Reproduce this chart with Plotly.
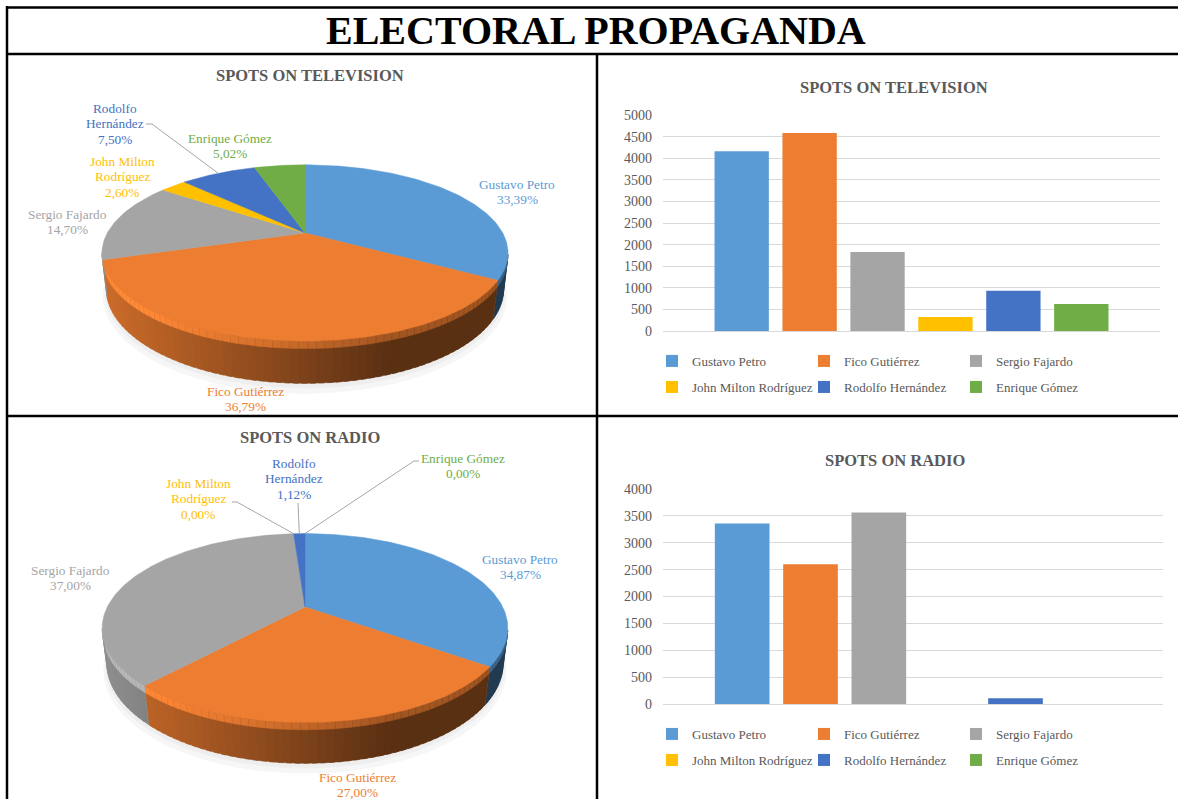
import numpy as np
import plotly.graph_objects as go

W, H = 1178, 799

# ---------------- data ----------------
candidates = ["Gustavo Petro", "Fico Gutiérrez", "Sergio Fajardo",
              "John Milton Rodríguez", "Rodolfo Hernández", "Enrique Gómez"]
tv_spots = [4160, 4583, 1831, 324, 934, 625]
radio_spots = [3358, 2600, 3563, 0, 108, 0]
colors = ["#5B9BD5", "#ED7D31", "#A5A5A5", "#FFC000", "#4472C4", "#70AD47"]
pie_label_names = ["Gustavo Petro", "Fico Gutiérrez", "Sergio Fajardo",
                   "John Milton<br>Rodríguez", "Rodolfo<br>Hernández", "Enrique Gómez"]
tv_ticks = list(range(0, 5001, 500))
radio_ticks = list(range(0, 4001, 500))

# ---------------- styling / layout ----------------
FONT = "Liberation Serif"
TEXT_GRAY = "#595959"
GRID = "#D9D9D9"

PIE_DIST = 4.0      # camera distance (in pie radii)
PIE_FOCAL = 791.0   # projection scale, px
PIE_DEPTH = 0.2     # disc thickness (in pie radii)
BEVEL = 0.035       # height of the lit rim band on the wall
WALL_STEP = 2.0     # angular step of the shaded wall strips, degrees

pie_geo = {
    "tv": dict(cx=305, cy=233, elev=25),
    "radio": dict(cx=305, cy=607, elev=27),
}
label_pos = {
    "tv": [(517, 184), (245, 391), (67, 214), (122, 161), (115, 108), (230, 138)],
    "radio": [(520, 559), (357, 777), (70, 570), (198, 483), (294, 463), (463, 458)],
}
# label-side points of leader lines (the other end sits on the slice rim)
leader_start = {
    "tv": {4: [(146, 124), (152, 124)]},
    "radio": {3: [(232, 502), (237, 502)], 4: [(298, 503)], 5: [(419, 461), (414, 461)]},
}


def px(x):
    return x / W


def py(y):
    return 1 - y / H


def pct_text(v, total):
    return f"{100 * v / total:.2f}".replace(".", ",") + "%"


def shade(hex_color, k):
    r, g, b = (int(hex_color[i:i + 2], 16) for i in (1, 3, 5))
    return "rgb({},{},{})".format(*(int(round(min(255, ch * k))) for ch in (r, g, b)))


fig = go.Figure()


def make_projector(geo):
    e = np.radians(geo["elev"])
    s, c = np.sin(e), np.cos(e)

    def proj(th_deg, z, r=1.0):
        th = np.radians(np.asarray(th_deg, float))
        X, Y = r * np.sin(th), r * np.cos(th)
        zc = Y * c + PIE_DIST - z * s
        return geo["cx"] + PIE_FOCAL * X / zc, geo["cy"] - PIE_FOCAL * (Y * s + z * c) / zc

    vis = np.degrees(np.arccos(-1.0 / (PIE_DIST * c)))
    return proj, vis


def pie_edges(values):
    shares = np.asarray(values, float) / float(sum(values))
    return np.concatenate([[0.0], np.cumsum(shares)]) * 360.0


def poly(xs, ys, color):
    xs, ys = list(xs), list(ys)
    return go.Scatter(x=xs + [xs[0]], y=ys + [ys[0]], xaxis="x", yaxis="y", mode="lines",
                      fill="toself", fillcolor=color, line=dict(color=color, width=0.5),
                      hoverinfo="skip", showlegend=False)


shadow_traces, side_traces, top_traces = [], [], []


def build_pie(key, values):
    geo = pie_geo[key]
    proj, vis = make_projector(geo)
    edges = pie_edges(values)
    ring = np.linspace(0, 360, 361)
    rim_x, _ = proj(ring, 0.0)
    xmin, xmax = rim_x.min(), rim_x.max()

    # faint drop shadow under the disc
    for r, dz, col in [(1.02, -0.235, "#F6F6F6"), (1.008, -0.218, "#EEEEEE")]:
        sx, sy = proj(ring, dz, r)
        shadow_traces.append(poly(sx, sy, col))

    for i, col in enumerate(colors):
        a0, a1 = edges[i], edges[i + 1]
        if a1 - a0 <= 0:
            continue
        # visible outer wall, shaded darker toward the right, lit bevel along the rim
        b0, b1 = max(a0, vis - WALL_STEP), min(a1, 360 - vis + WALL_STEP)
        if b1 > b0:
            n = max(2, int(np.ceil((b1 - b0) / WALL_STEP)) + 1)
            ths = np.linspace(b0, b1, n)
            for t0, t1 in zip(ths[:-1], ths[1:]):
                t1x = min(t1 + 0.6 * WALL_STEP, a1)  # small overlap hides seams
                xt, yt = proj([t0, t1x], 0.0)
                xm_, ym_ = proj([t1x, t0], -BEVEL)
                xb, yb = proj([t1x, t0], -PIE_DEPTH)
                xm = 0.5 * (xt[0] + xt[1])
                t = (xm - xmin) / (xmax - xmin)
                k = float(np.clip(0.86 - 0.68 * t, 0.38, 0.86))
                side_traces.append(poly(list(xt) + list(xb), list(yt) + list(yb), shade(col, k)))
                side_traces.append(poly(list(xt) + list(xm_), list(yt) + list(ym_),
                                        shade(col, min(1.12, k + 0.3))))
        # top face
        n = max(2, int(np.ceil((a1 - a0) / 1.0)) + 1)
        ths = np.linspace(a0, a1, n)
        xa, ya = proj(ths, 0.0)
        top_traces.append(poly([geo["cx"]] + list(xa), [geo["cy"]] + list(ya), col))


build_pie("tv", tv_spots)
build_pie("radio", radio_spots)
for tr in shadow_traces + side_traces + top_traces:
    fig.add_trace(tr)

annotations = []


def pie_labels(key, values):
    total = float(sum(values))
    geo = pie_geo[key]
    proj, _ = make_projector(geo)
    edges = pie_edges(values)
    for i, col in enumerate(colors):
        lx, ly = label_pos[key][i]
        lines = pie_label_names[i].split("<br>") + [pct_text(values[i], total)]
        for j, txt in enumerate(lines):
            annotations.append(dict(
                x=lx, y=ly + 15.5 * j, xref="x", yref="y", text=txt, showarrow=False,
                xanchor="center", yanchor="middle",
                font=dict(family=FONT, size=13.3, color=col)))
        if i in leader_start[key]:
            mid = 0.5 * (edges[i] + edges[i + 1])
            ex, ey = proj(mid, 0.0)
            pts = leader_start[key][i] + [(float(ex), float(ey))]
            fig.add_trace(go.Scatter(
                x=[p[0] for p in pts], y=[p[1] for p in pts], xaxis="x", yaxis="y",
                mode="lines", line=dict(color="#A6A6A6", width=1),
                hoverinfo="skip", showlegend=False))


pie_labels("tv", tv_spots)
pie_labels("radio", radio_spots)

# ---------------- bar charts ----------------
for i, name in enumerate(candidates):
    fig.add_trace(go.Bar(
        x=[0], y=[tv_spots[i]], name=name, marker=dict(color=colors[i], line=dict(width=0)),
        xaxis="x2", yaxis="y2", legend="legend" if i < 3 else "legend2",
        hovertemplate=name + ": %{y}<extra></extra>"))
for i, name in enumerate(candidates):
    fig.add_trace(go.Bar(
        x=[0], y=[radio_spots[i]], name=name, marker=dict(color=colors[i], line=dict(width=0)),
        xaxis="x3", yaxis="y3", legend="legend3" if i < 3 else "legend4",
        hovertemplate=name + ": %{y}<extra></extra>"))

# ---------------- titles ----------------
annotations.append(dict(x=596, y=30, xref="x", yref="y", text="<b>ELECTORAL PROPAGANDA</b>",
                        showarrow=False, font=dict(family=FONT, size=40, color="#000000")))
for (tx, ty, txt) in [(310, 75, "SPOTS ON TELEVISION"), (310, 437, "SPOTS ON RADIO"),
                      (894, 87, "SPOTS ON TELEVISION"), (895, 460, "SPOTS ON RADIO")]:
    annotations.append(dict(x=tx, y=ty, xref="x", yref="y", text=f"<b>{txt}</b>",
                            showarrow=False, font=dict(family=FONT, size=16.5, color=TEXT_GRAY)))

# ---------------- table borders ----------------
shapes = []
for (x0, y0, x1, y1, w) in [(6, 7.5, W, 7.5, 2.5), (6, 54, W, 54, 2.5),
                            (7, 6, 7, H, 2.5), (597, 54, 597, H, 2.5),
                            (7, 416, W, 416, 2.5)]:
    shapes.append(dict(type="line", xref="x", yref="y", x0=x0, y0=y0, x1=x1, y1=y1,
                       line=dict(color="#000000", width=w), layer="above"))

legend_common = dict(orientation="h", xanchor="left", yanchor="middle", entrywidth=107,
                     entrywidthmode="pixels", bgcolor="rgba(0,0,0,0)",
                     font=dict(family=FONT, size=13, color=TEXT_GRAY),
                     itemclick=False, itemdoubleclick=False, traceorder="normal")

yaxis_common = dict(showgrid=True, gridcolor=GRID, gridwidth=1, zeroline=True,
                    zerolinecolor=GRID, zerolinewidth=1, showline=False, ticks="",
                    tickfont=dict(family=FONT, size=14, color=TEXT_GRAY),
                    ticklabelstandoff=10, fixedrange=True, automargin=False)

fig.update_layout(
    width=W, height=H, margin=dict(l=0, r=0, t=0, b=0, autoexpand=False),
    paper_bgcolor="white", plot_bgcolor="white",
    barmode="group", bargap=0.18, bargroupgap=0.2,
    xaxis=dict(domain=[0, 1], range=[0, W], visible=False, fixedrange=True),
    yaxis=dict(domain=[0, 1], range=[H, 0], visible=False, fixedrange=True),
    xaxis2=dict(domain=[px(663), px(1160)], range=[-0.5, 0.5], visible=False,
                anchor="y2", fixedrange=True),
    yaxis2=dict(domain=[py(331), py(115)], range=[0, 5000], tickvals=tv_ticks,
                anchor="x2", **yaxis_common),
    xaxis3=dict(domain=[px(663), px(1163)], range=[-0.5, 0.5], visible=False,
                anchor="y3", fixedrange=True),
    yaxis3=dict(domain=[py(704), py(489)], range=[0, 4000], tickvals=radio_ticks,
                anchor="x3", **yaxis_common),
    legend=dict(x=px(652), y=py(361), **legend_common),
    legend2=dict(x=px(652), y=py(387), **legend_common),
    legend3=dict(x=px(652), y=py(734), **legend_common),
    legend4=dict(x=px(652), y=py(760), **legend_common),
    annotations=annotations, shapes=shapes, showlegend=True,
)

fig.write_html("out.html")
